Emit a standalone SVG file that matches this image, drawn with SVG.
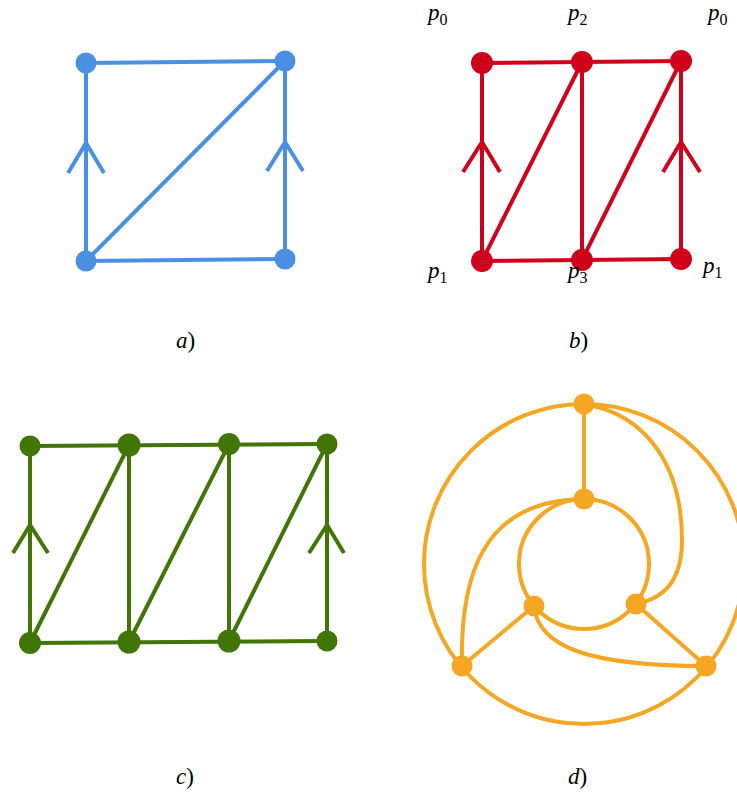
<svg xmlns="http://www.w3.org/2000/svg" width="737" height="796" viewBox="0 0 737 796">
<style>
.e{fill:none;stroke-width:4;stroke-linecap:butt;stroke-linejoin:miter}
.blue{stroke:#4a90e2}.bluef{fill:#4a90e2}
.red{stroke:#d0021b}.redf{fill:#d0021b}
.green{stroke:#417505}.greenf{fill:#417505}
.orange{stroke:#f5a623}.orangef{fill:#f5a623}
.lbl{font-family:"Liberation Serif","DejaVu Serif",serif;font-size:23px;fill:#000}
.it{font-style:italic}
.sub{font-size:16px;font-style:normal}
</style>
<rect width="737" height="796" fill="#fff"/>

<!-- Panel a -->
<g id="a-connectors" class="e blue">
<line x1="86" y1="63" x2="285" y2="61"/>
<line x1="86" y1="261" x2="285" y2="259"/>
<line x1="86" y1="261" x2="86" y2="63"/>
<line x1="285" y1="259" x2="285" y2="61"/>
<line x1="86" y1="261" x2="285" y2="61"/>
<polyline points="68,173 86,143 104,173"/>
<polyline points="267,171 285,142 303,171"/>
</g>
<g id="a-n1" class="bluef"><circle cx="86" cy="63" r="10.5"/></g>
<g id="a-n2" class="bluef"><circle cx="285" cy="61" r="10.5"/></g>
<g id="a-n3" class="bluef"><circle cx="86" cy="261" r="10.5"/></g>
<g id="a-n4" class="bluef"><circle cx="285" cy="259" r="10.5"/></g>
<text class="lbl" x="176" y="348"><tspan class="it">a</tspan>)</text>

<!-- Panel b -->
<g id="b-connectors" class="e red">
<line x1="482" y1="63" x2="681" y2="61"/>
<line x1="482" y1="261" x2="681" y2="259"/>
<line x1="482" y1="261" x2="482" y2="63"/>
<line x1="582" y1="260" x2="582" y2="62"/>
<line x1="681" y1="259" x2="681" y2="61"/>
<line x1="482" y1="261" x2="582" y2="62"/>
<line x1="582" y1="260" x2="681" y2="61"/>
<polyline points="463,172 482,142 500,172"/>
<polyline points="663,172 681,142 700,172"/>
</g>
<g id="b-p0a" class="redf"><circle cx="482" cy="63" r="11"/></g>
<g id="b-p2" class="redf"><circle cx="582" cy="62" r="11"/></g>
<g id="b-p0b" class="redf"><circle cx="681" cy="61" r="11"/></g>
<g id="b-p1a" class="redf"><circle cx="482" cy="261" r="11"/></g>
<g id="b-p3" class="redf"><circle cx="582" cy="260" r="11"/></g>
<g id="b-p1b" class="redf"><circle cx="681" cy="259" r="11"/></g>
<text class="lbl" x="428" y="20"><tspan class="it">p</tspan><tspan class="sub" dy="5">0</tspan></text>
<text class="lbl" x="568" y="20"><tspan class="it">p</tspan><tspan class="sub" dy="5">2</tspan></text>
<text class="lbl" x="708" y="20"><tspan class="it">p</tspan><tspan class="sub" dy="5">0</tspan></text>
<text class="lbl" x="428" y="278"><tspan class="it">p</tspan><tspan class="sub" dy="5">1</tspan></text>
<text class="lbl" x="568" y="278"><tspan class="it">p</tspan><tspan class="sub" dy="5">3</tspan></text>
<text class="lbl" x="703" y="273"><tspan class="it">p</tspan><tspan class="sub" dy="5">1</tspan></text>
<text class="lbl" x="569" y="348"><tspan class="it">b</tspan>)</text>

<!-- Panel c -->
<g id="c-connectors" class="e green">
<line x1="30" y1="446" x2="327" y2="444"/>
<line x1="30" y1="643" x2="327" y2="641"/>
<line x1="30" y1="643" x2="30" y2="446"/>
<line x1="129" y1="642" x2="129" y2="445"/>
<line x1="229" y1="641" x2="229" y2="444"/>
<line x1="327" y1="641" x2="327" y2="444"/>
<line x1="30" y1="643" x2="129" y2="445"/>
<line x1="129" y1="642" x2="229" y2="444"/>
<line x1="229" y1="641" x2="327" y2="444"/>
<polyline points="13,553 30,525 48,553"/>
<polyline points="309,553 327,525 344,553"/>
</g>
<g id="c-t1" class="greenf"><circle cx="30" cy="446" r="10.5"/></g>
<g id="c-t2" class="greenf"><circle cx="129" cy="445" r="11.5"/></g>
<g id="c-t3" class="greenf"><circle cx="229" cy="444" r="11"/></g>
<g id="c-t4" class="greenf"><circle cx="327" cy="444" r="10.5"/></g>
<g id="c-b1" class="greenf"><circle cx="30" cy="643" r="11"/></g>
<g id="c-b2" class="greenf"><circle cx="129" cy="642" r="11.5"/></g>
<g id="c-b3" class="greenf"><circle cx="229" cy="641" r="11.5"/></g>
<g id="c-b4" class="greenf"><circle cx="327" cy="641" r="10.5"/></g>
<text class="lbl" x="176" y="784"><tspan class="it">c</tspan>)</text>

<!-- Panel d -->
<g id="d-connectors" class="e orange">
<circle cx="584" cy="564" r="160"/>
<circle cx="584" cy="564" r="65"/>
<line x1="584" y1="404" x2="584" y2="499"/>
<line x1="534" y1="606" x2="462" y2="666"/>
<line x1="636" y1="604" x2="706" y2="666"/>
<path d="M584,404 C650,415 682,470 682,540 C682,580 665,598 636,604"/>
<path d="M584,499 C480,500 460,580 462,666"/>
<path d="M534,606 C538,648 592,666 706,666"/>
</g>
<g id="d-top" class="orangef"><circle cx="584" cy="404" r="10.5"/></g>
<g id="d-mid" class="orangef"><circle cx="584" cy="499" r="10.5"/></g>
<g id="d-il" class="orangef"><circle cx="534" cy="606" r="10.5"/></g>
<g id="d-ir" class="orangef"><circle cx="636" cy="604" r="10.5"/></g>
<g id="d-ol" class="orangef"><circle cx="462" cy="666" r="10.5"/></g>
<g id="d-or" class="orangef"><circle cx="706" cy="666" r="10.5"/></g>
<text class="lbl" x="568" y="784"><tspan class="it">d</tspan>)</text>
</svg>
